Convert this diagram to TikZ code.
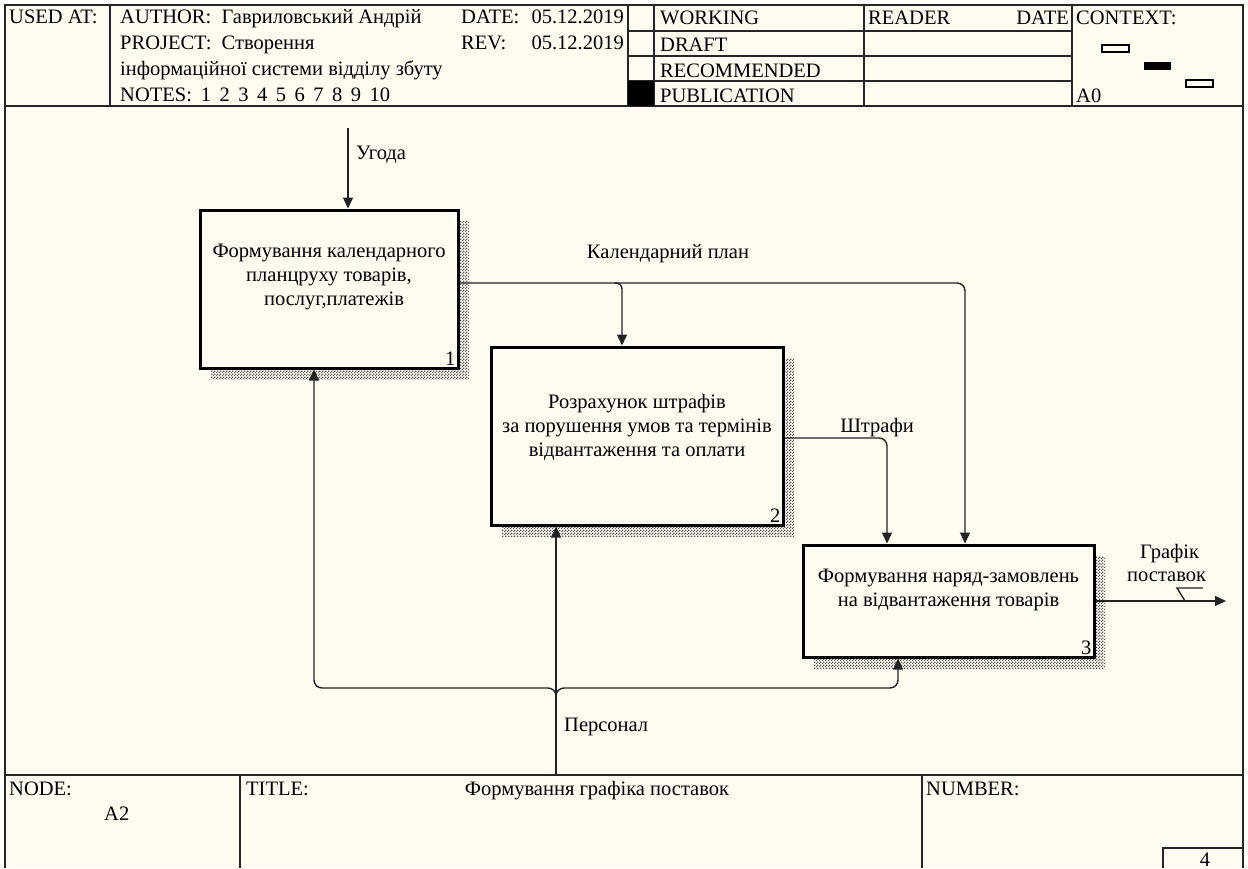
\documentclass[tikz,border=0pt]{standalone}
\usepackage{fontspec}
\setmainfont{Liberation Serif}
\usetikzlibrary{arrows.meta, positioning, calc, patterns, shadows}
\definecolor{paper}{RGB}{255,251,240}
\definecolor{inkline}{RGB}{35,35,35}
\pgfdeclarepatternformonly{fine_checker}{\pgfqpoint{0pt}{0pt}}{\pgfqpoint{3pt}{3pt}}{\pgfqpoint{3pt}{3pt}}{%
    \pgfpathrectangle{\pgfqpoint{0pt}{0pt}}{\pgfqpoint{1.5pt}{1.5pt}}%
    \pgfpathrectangle{\pgfqpoint{1.5pt}{1.5pt}}{\pgfqpoint{1.5pt}{1.5pt}}%
    \pgfusepath{fill}}
\tikzset{
    idef_box/.style={rectangle, draw=black, line width=3pt, fill=paper, inner sep=0pt,
        general shadow={shadow xshift=11pt, shadow yshift=-11pt, pattern=fine_checker, pattern color=black!65}},
    box_text/.style={align=center, font=\fontsize{20.5}{24}\selectfont, inner sep=0pt},
    box_num/.style={anchor=south east, font=\fontsize{20.5}{24}\selectfont, inner sep=4pt},
    idef_arrow/.style={-{Triangle[length=11pt,width=10pt]}, line width=1.4pt, draw=inkline, rounded corners=8pt},
    idef_line/.style={line width=1.4pt, draw=inkline},
    arrow_label/.style={font=\fontsize{20.5}{23}\selectfont, inner sep=0pt, align=center},
    form_line/.style={line width=1.4pt, draw=black!85},
    form_text/.style={anchor=base west, font=\fontsize{20.5}{23}\selectfont, inner sep=0pt}
}

\begin{document}
\begin{tikzpicture}[x=1pt, y=-1pt]

\useasboundingbox (0,0) rectangle (1248,868);
\fill[white] (0,0) rectangle (1248,868);
\fill[paper] (5,5) rectangle (1243,868);

% Form frame
\draw[form_line] (5,868) -- (5,5) -- (1243,5) -- (1243,868);
\draw[form_line] (5,106) -- (1243,106);
\foreach \xx in {110,628,654,864,1072}
    \draw[form_line] (\xx,5) -- (\xx,106);
\foreach \yy in {31,56,81}
    \draw[form_line] (628,\yy) -- (1072,\yy);
\fill (628,81) rectangle (654,106);
\draw[form_line] (5,775) -- (1243,775);
\draw[form_line] (240,775) -- (240,868);
\draw[form_line] (922,775) -- (922,868);
\draw[form_line] (1243,848) -- (1163,848) -- (1163,868);

% Header texts
\node[form_text] (used_at) at (9,23) {USED AT:};
\node[form_text] (author) at (120,23) {AUTHOR:\ \ Гавриловський Андрій};
\node[form_text] (project) at (120,49) {PROJECT:\ \ Створення};
\node[form_text] (project_b) at (120,75) {інформаційної системи відділу збуту};
\node[form_text] (notes) at (120,101) {NOTES:\hspace{9pt}1\hspace{8.5pt}2\hspace{8.5pt}3\hspace{8.5pt}4\hspace{8.5pt}5\hspace{8.5pt}6\hspace{8.5pt}7\hspace{8.5pt}8\hspace{8.5pt}9\hspace{8.5pt}10};
\node[form_text] (date_lbl) at (461,23) {DATE:};
\node[form_text, anchor=base east] (date_val) at (624,23) {05.12.2019};
\node[form_text] (rev_lbl) at (461,49) {REV:};
\node[form_text, anchor=base east] (rev_val) at (624,49) {05.12.2019};
\node[form_text] (working) at (660,24) {WORKING};
\node[form_text] (draft) at (660,51) {DRAFT};
\node[form_text] (recommended) at (660,77) {RECOMMENDED};
\node[form_text] (publication) at (660,102) {PUBLICATION};
\node[form_text] (reader) at (868,24) {READER};
\node[form_text, anchor=base east] (reader_date) at (1069,24) {DATE};
\node[form_text] (context) at (1076,24) {CONTEXT:};
\node[form_text] (context_node) at (1076,102) {A0};
\draw[line width=1.2pt, fill=paper] (1102,45) rectangle (1129,52);
\fill (1144,62) rectangle (1171,70);
\draw[line width=1.2pt, fill=paper] (1186,80) rectangle (1213,87);

% Activities
\node[idef_box, minimum width=258pt, minimum height=158pt] (b1) at (329,289) {};
\node[box_text] (b1_text) at ($(b1.center)+(0,-12)$)
    {Формування календарного\\планцруху товарів,\\\ \ послуг,платежів};
\node[box_num] (b1_num) at (b1.south east) {1};

\node[idef_box, minimum width=292pt, minimum height=178pt] (b2) at (637,436) {};
\node[box_text] (b2_text) at ($(b2.center)+(0,-9)$)
    {Розрахунок штрафів\\за порушення умов та термінів\\відвантаження та оплати};
\node[box_num] (b2_num) at (b2.south east) {2};

\node[idef_box, minimum width=291pt, minimum height=112pt] (b3) at (948.5,601) {};
\node[box_text] (b3_text) at ($(b3.center)+(0,-11)$)
    {Формування наряд-замовлень\\на відвантаження товарів};
\node[box_num] (b3_num) at (b3.south east) {3};

% Control
\coordinate (ugoda_top) at (348,128);
\draw[idef_arrow] (ugoda_top) -- (ugoda_top |- b1.north);
\node[arrow_label, anchor=base west] (ugoda_lbl) at (356,159) {Угода};

% Calendar plan
\coordinate (cal_out) at ($(b1.east)+(0,-6)$);
\coordinate (cal_branch) at (622,283);
\coordinate (cal_turn) at (965,283);
\draw[idef_arrow] (cal_out) -- (cal_turn) -- (cal_turn |- b3.north);
\draw[idef_arrow, rounded corners=6pt] ($(cal_branch)+(-8,0)$) -- (cal_branch) -- (cal_branch |- b2.north);
\node[arrow_label, anchor=base] (cal_lbl) at (668,258) {Календарний план};

% Fines
\coordinate (fine_turn) at (887,438);
\draw[idef_arrow] (b2.east |- fine_turn) -- (fine_turn) -- (fine_turn |- b3.north);
\node[arrow_label, anchor=base] (fine_lbl) at (877,432) {Штрафи};

% Output
\coordinate (graf_end) at (1226,601);
\draw[idef_arrow] (b3.east) -- (graf_end);
\node[arrow_label, align=left, anchor=west] (graf_lbl) at (1127,563) {\hspace{13pt}Графік\\поставок};
\draw[idef_line] (1172,601) -- (1185,601) -- (1177,588) -- (1203,588);

% Mechanism
\coordinate (pers_src) at (556,775);
\draw[idef_arrow] (pers_src) -- (pers_src |- b2.south);
\node[arrow_label, anchor=west] (pers_lbl) at (564,727) {Персонал};
\coordinate (bus_mid) at (556,688);
\coordinate (bus_left) at (314,688);
\coordinate (bus_right) at (898,688);
\draw[idef_arrow] ($(bus_mid)+(0,9)$) -- (bus_mid) -- (bus_left) -- (bus_left |- b1.south);
\draw[idef_arrow] ($(bus_mid)+(0,9)$) -- (bus_mid) -- (bus_right) -- (bus_right |- b3.south);

% Footer texts
\node[form_text] (node_lbl) at (9,795) {NODE:};
\node[form_text] (node_val) at (104,820) {A2};
\node[form_text] (title_lbl) at (246,795) {TITLE:};
\node[form_text, anchor=base] (title_val) at (597,795) {Формування графіка поставок};
\node[form_text] (number_lbl) at (926,795) {NUMBER:};
\node[form_text, anchor=base] (number_val) at (1205,866) {4};

\end{tikzpicture}
\end{document}
